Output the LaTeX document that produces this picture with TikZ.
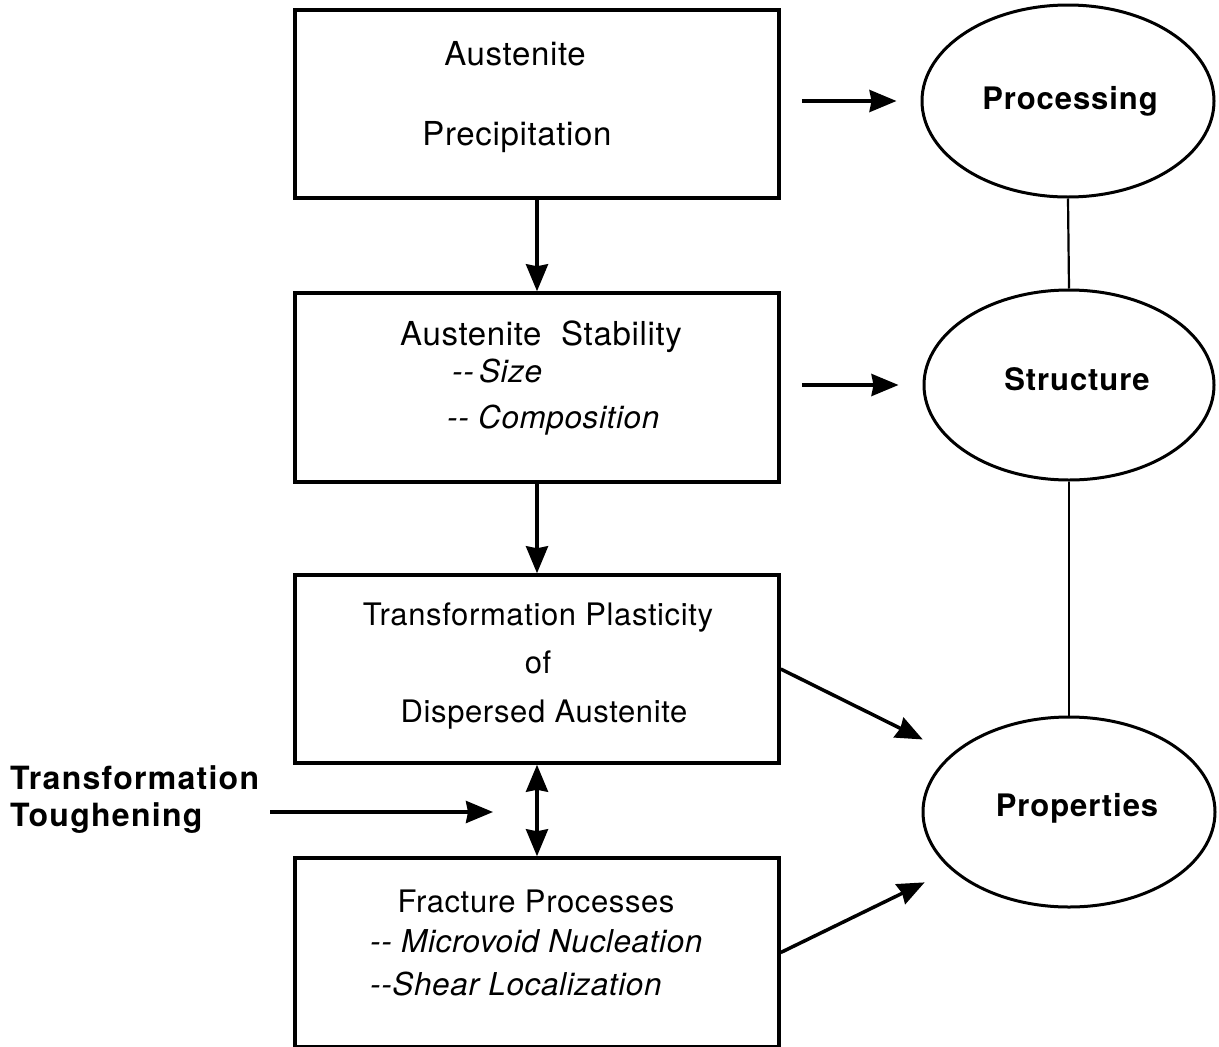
\documentclass[tikz,border=0pt]{standalone}
\usepackage{fontspec}
\setmainfont{TeX Gyre Heros}
\usetikzlibrary{arrows.meta,shapes.geometric}
\begin{document}
\begin{tikzpicture}[x=1pt,y=-1pt,
  box/.style={draw,line width=3.5pt,minimum width=484pt,inner sep=0pt},
  oval/.style={draw,ellipse,line width=3pt,inner sep=0pt},
  arr/.style={line width=3.5pt,-{Stealth[length=27pt,width=22pt,inset=2pt]}},
  darr/.style={line width=3.5pt,{Stealth[length=27pt,width=22pt,inset=2pt]}-{Stealth[length=27pt,width=22pt,inset=2pt]}},
  link/.style={line width=2.2pt},
  bigtxt/.style={inner sep=0pt,font=\fontsize{33}{38}\selectfont\addfontfeature{LetterSpace=2}},
  ittxt/.style={inner sep=0pt,font=\fontsize{31.5}{36}\selectfont\itshape\addfontfeature{LetterSpace=2}},
  smtxt/.style={inner sep=0pt,font=\fontsize{31}{36}\selectfont\addfontfeature{LetterSpace=2}},
  bold/.style={inner sep=0pt,font=\fontsize{31}{36}\selectfont\bfseries\addfontfeature{LetterSpace=3}},
  boldL/.style={inner sep=0pt,font=\fontsize{32}{37}\selectfont\bfseries\addfontfeature{LetterSpace=4}}
]
\fill[white] (0,0) rectangle (1219,1047);
\useasboundingbox (0,0) rectangle (1219,1047);

% boxes
\node[box,minimum height=188pt] (b1) at (537,104) {};
\node[box,minimum height=189pt] (b2) at (537,387.5) {};
\node[box,minimum height=188pt] (b3) at (537,669) {};
\node[box,minimum height=189pt] (b4) at (537,952.5) {};

% box texts
\node[bigtxt,anchor=base] (t1a) at (515,65) {Austenite};
\node[bigtxt,anchor=base] (t1b) at (517,145) {Precipitation};

\node[bigtxt,anchor=base] (t2a) at (541,345) {Austenite\ \ Stability};
\node[ittxt,anchor=base west] (t2b) at (452,382) {-{}-\,Size};
\node[ittxt,anchor=base west] (t2c) at (447,428) {-{}- Composition};

\node[smtxt,anchor=base] (t3a) at (538,625) {Transformation Plasticity};
\node[smtxt,anchor=base] (t3b) at (538,673) {of};
\node[smtxt,anchor=base] (t3c) at (544,722) {Dispersed Austenite};

\node[smtxt,anchor=base] (t4a) at (536,912) {Fracture Processes};
\node[ittxt,anchor=base west] (t4b) at (370,952) {-{}- Microvoid Nucleation};
\node[ittxt,anchor=base west] (t4c) at (370,995) {-{}-Shear Localization};

% ellipses
\node[oval,minimum width=292pt,minimum height=192pt] (proc) at (1068,101) {};
\node[oval,minimum width=290pt,minimum height=190pt] (str) at (1069,385) {};
\node[oval,minimum width=292pt,minimum height=190pt] (prop) at (1069,812) {};

\node[bold,anchor=base] (lp) at (1070,109) {Processing};
\node[bold,anchor=base] (ls) at (1077,390) {Structure};
\node[bold,anchor=base] (lq) at (1077,816) {Properties};

% left label
\node[boldL,anchor=base west] (tt1) at (10,789) {Transformation};
\node[boldL,anchor=base west] (tt2) at (10,826) {Toughening};
\coordinate (ttend) at (493,812);

% connectors
\draw[arr] (b1.south) -- (b2.north);
\draw[arr] (b2.south) -- (b3.north);
\draw[darr] (b3.south) -- (b4.north);
\draw[arr,shorten <=21pt,shorten >=24pt] (b1.east |- proc.west) -- (proc.west);
\draw[arr,shorten <=21pt,shorten >=24pt] (b2.east |- str.west) -- (str.west);
\draw[arr,shorten >=32pt] (b3.east) -- (prop);
\draw[arr,shorten >=29pt] (b4.east) -- (prop);
\draw[arr] (270,812) -- (ttend);
\draw[link] (proc.south) -- (str.north);
\draw[link] (str.south) -- (prop.north);
\end{tikzpicture}
\end{document}
